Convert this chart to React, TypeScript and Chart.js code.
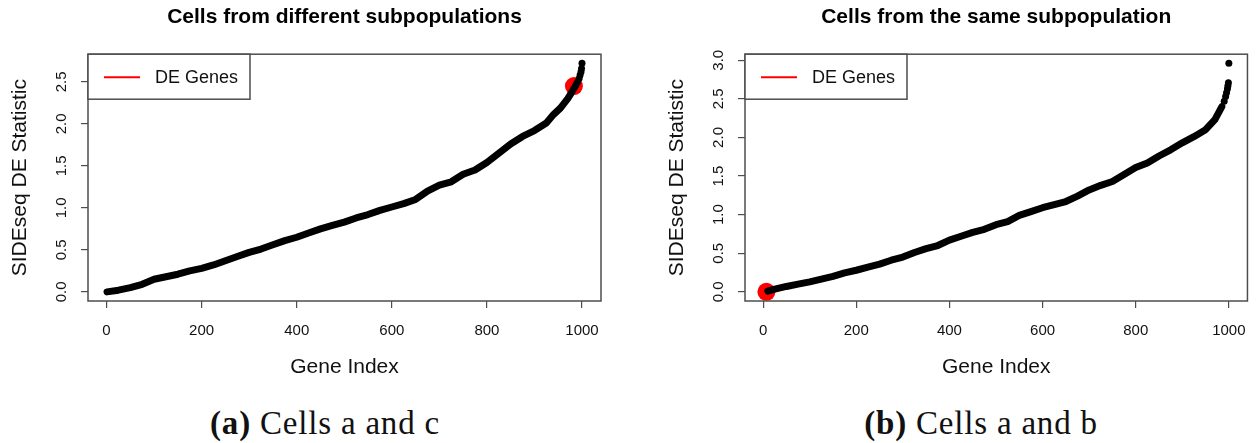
import React, { useEffect, useRef } from "react";
import { Chart, registerables } from "chart.js";

Chart.register(...registerables);

// ---------- data ----------
const xTicks = [0, 200, 400, 600, 800, 1000];
const yTicksA = [0, 0.5, 1.0, 1.5, 2.0, 2.5];
const yTicksB = [0, 0.5, 1.0, 1.5, 2.0, 2.5, 3.0];

// Panel (a): cells from different subpopulations
const geneIndexA = [1, 25, 50, 75, 100, 125, 150, 175, 200, 225, 250, 275, 300, 325, 350, 375, 400, 425, 450, 475, 500, 525, 550, 575, 600, 625, 650, 675, 700, 725, 750, 775, 800, 825, 850, 875, 900, 925, 940, 955, 970, 980, 986];
const statA = [0.0, 0.02, 0.05, 0.09, 0.15, 0.18, 0.21, 0.25, 0.28, 0.32, 0.37, 0.42, 0.47, 0.51, 0.56, 0.61, 0.65, 0.7, 0.75, 0.79, 0.83, 0.88, 0.92, 0.97, 1.01, 1.05, 1.1, 1.2, 1.27, 1.31, 1.4, 1.45, 1.54, 1.65, 1.76, 1.85, 1.92, 2.01, 2.11, 2.19, 2.3, 2.39, 2.45];
const tailIndexA = [988, 991, 994, 996, 998, 999, 1000];
const tailStatA = [2.47, 2.5, 2.54, 2.58, 2.62, 2.66, 2.72];
const deIndexA = [983];
const deStatA = [2.45];

// Panel (b): cells from the same subpopulation
const geneIndexB = [10, 25, 50, 75, 100, 125, 150, 175, 200, 225, 250, 275, 300, 325, 350, 375, 400, 425, 450, 475, 500, 525, 550, 575, 600, 625, 650, 675, 700, 725, 750, 775, 800, 825, 850, 875, 900, 925, 950, 970, 985];
const statB = [0.01, 0.035, 0.07, 0.1, 0.13, 0.165, 0.2, 0.245, 0.28, 0.32, 0.36, 0.41, 0.45, 0.51, 0.56, 0.6, 0.67, 0.72, 0.77, 0.81, 0.87, 0.91, 0.99, 1.04, 1.09, 1.13, 1.17, 1.24, 1.32, 1.38, 1.43, 1.52, 1.61, 1.67, 1.76, 1.84, 1.93, 2.01, 2.1, 2.23, 2.4];
const tailIndexB = [990, 993, 995, 997, 998, 999, 1000];
const tailStatB = [2.47, 2.53, 2.58, 2.63, 2.67, 2.71, 2.96];
const deIndexB = [7];
const deStatB = [0.0];

// ---------- styling ----------
const SANS = "'Liberation Sans', Arial, Helvetica, sans-serif";
const SERIF = "'Liberation Serif', 'Times New Roman', serif";
const LINE_GRAY = "#4d4d4d";

const rFrame = {
  id: "rFrame",
  afterDraw(chart: any) {
    const { ctx, chartArea } = chart;
    const { left, top, right, bottom } = chartArea;
    ctx.save();
    // plot box
    ctx.strokeStyle = LINE_GRAY;
    ctx.lineWidth = 1.5;
    ctx.strokeRect(left, top, right - left, bottom - top);
    // legend box
    const lw = 162;
    const lh = 45;
    ctx.fillStyle = "#ffffff";
    ctx.fillRect(left, top, lw, lh);
    ctx.strokeRect(left, top, lw, lh);
    const cy = top + 23;
    ctx.strokeStyle = "#ff0000";
    ctx.lineWidth = 2;
    ctx.beginPath();
    ctx.moveTo(left + 16, cy);
    ctx.lineTo(left + 52, cy);
    ctx.stroke();
    ctx.fillStyle = "#111111";
    ctx.font = `18px ${SANS}`;
    ctx.textAlign = "left";
    ctx.textBaseline = "middle";
    ctx.fillText("DE Genes", left + 67, cy + 1);
    ctx.restore();
  },
};

type PanelProps = {
  title: string;
  idx: number[];
  vals: number[];
  tailIdx: number[];
  tailVals: number[];
  deIdx: number[];
  deVals: number[];
  yTicks: number[];
  yMax: number;
  width: number;
  padRight: number;
  left: number;
};

function Panel(p: PanelProps) {
  const ref = useRef<HTMLCanvasElement | null>(null);
  useEffect(() => {
    if (!ref.current) return;
    const toPts = (xs: number[], ys: number[]) => xs.map((x, i) => ({ x, y: ys[i] }));
    const yRange = p.yMax;
    const chart = new Chart(ref.current, {
      type: "scatter",
      data: {
        datasets: [
          {
            data: toPts(p.idx, p.vals),
            showLine: true,
            borderColor: "#000000",
            borderWidth: 7,
            borderCapStyle: "round",
            borderJoinStyle: "round",
            pointRadius: 0,
            tension: 0,
            order: 1,
          } as any,
          {
            data: toPts(p.tailIdx, p.tailVals),
            showLine: false,
            pointRadius: 3.5,
            pointBackgroundColor: "#000000",
            pointBorderWidth: 0,
            order: 1,
          },
          {
            data: toPts(p.deIdx, p.deVals),
            showLine: false,
            pointRadius: 9,
            pointBackgroundColor: "#ff0000",
            pointBorderWidth: 0,
            order: 2,
          },
        ],
      },
      options: {
        responsive: false,
        animation: false,
        events: [],
        layout: { padding: { left: 0, right: p.padRight, top: 0, bottom: 0 } },
        plugins: {
          legend: { display: false },
          tooltip: { enabled: false },
          title: {
            display: true,
            text: p.title,
            fullSize: false,
            color: "#000000",
            font: { family: SANS, size: 21, weight: "bold" },
            padding: { top: 5, bottom: 24 },
          },
        },
        scales: {
          x: {
            type: "linear",
            min: 1 - 0.04 * 999,
            max: 1000 + 0.04 * 999,
            afterBuildTicks: (s: any) => {
              s.ticks = xTicks.map((v) => ({ value: v }));
            },
            afterFit: (s: any) => {
              s.height = 89;
            },
            ticks: {
              autoSkip: false,
              maxRotation: 0,
              minRotation: 0,
              padding: 14,
              color: "#111111",
              font: { family: SANS, size: 15 },
              callback: (v: any) => String(v),
            },
            grid: { drawOnChartArea: false, drawTicks: true, tickLength: 7, color: LINE_GRAY, lineWidth: 1.2 },
            border: { display: false },
            title: {
              display: true,
              text: "Gene Index",
              color: "#111111",
              font: { family: SANS, size: 21 },
              padding: { top: 0, bottom: 10 },
            },
          },
          y: {
            type: "linear",
            min: -0.04 * yRange,
            max: yRange * 1.04,
            afterBuildTicks: (s: any) => {
              s.ticks = p.yTicks.map((v) => ({ value: v }));
            },
            afterFit: (s: any) => {
              s.width = 88;
            },
            ticks: {
              autoSkip: false,
              minRotation: 90,
              maxRotation: 90,
              crossAlign: "center",
              padding: 9,
              color: "#111111",
              font: { family: SANS, size: 15 },
              callback: (v: any) => Number(v).toFixed(1),
            },
            grid: { drawOnChartArea: false, drawTicks: true, tickLength: 7, color: LINE_GRAY, lineWidth: 1.2 },
            border: { display: false },
            title: {
              display: true,
              text: "SIDEseq DE Statistic",
              color: "#111111",
              font: { family: SANS, size: 21 },
              padding: { top: 8, bottom: 0 },
            },
          },
        },
      } as any,
      plugins: [rFrame],
    });
    return () => chart.destroy();
  }, []);
  return (
    <canvas
      ref={ref}
      width={p.width}
      height={390}
      style={{ position: "absolute", left: p.left, top: 0, width: p.width, height: 390 }}
    />
  );
}

function Caption({ label, text, center }: { label: string; text: string; center: number }) {
  return (
    <div
      style={{
        position: "absolute",
        left: center - 200,
        top: 407,
        width: 400,
        textAlign: "center",
        fontFamily: SERIF,
        fontSize: 33,
        lineHeight: "33px",
        letterSpacing: "0.8px",
        color: "#111111",
        whiteSpace: "nowrap",
      }}
    >
      <b>{label}</b> {text}
    </div>
  );
}

export default function App() {
  return (
    <div
      style={{
        position: "fixed",
        left: 0,
        top: 0,
        width: 1260,
        height: 443,
        background: "#ffffff",
        overflow: "hidden",
      }}
    >
      <Panel
        title="Cells from different subpopulations"
        idx={geneIndexA}
        vals={statA}
        tailIdx={tailIndexA}
        tailVals={tailStatA}
        deIdx={deIndexA}
        deVals={deStatA}
        yTicks={yTicksA}
        yMax={2.72}
        width={630}
        padRight={29}
        left={0}
      />
      <Panel
        title="Cells from the same subpopulation"
        idx={geneIndexB}
        vals={statB}
        tailIdx={tailIndexB}
        tailVals={tailStatB}
        deIdx={deIndexB}
        deVals={deStatB}
        yTicks={yTicksB}
        yMax={2.96}
        width={603}
        padRight={2}
        left={657}
      />
      <Caption label="(a)" text="Cells a and c" center={325} />
      <Caption label="(b)" text="Cells a and b" center={981} />
    </div>
  );
}
